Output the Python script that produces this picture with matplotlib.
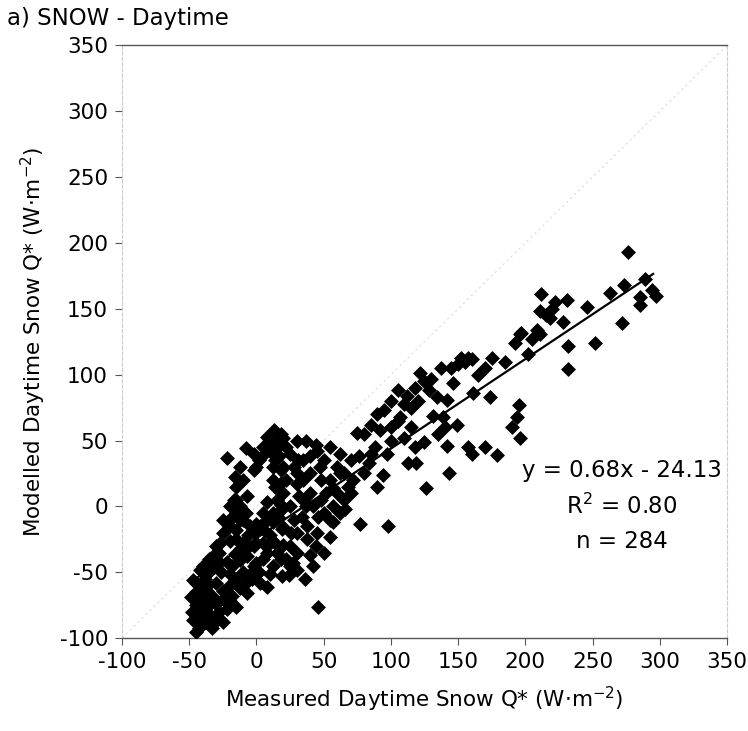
import numpy as np
import matplotlib
matplotlib.use("Agg")
import matplotlib.pyplot as plt

plt.rcParams["font.family"] = ["DejaVu Sans"]
plt.rcParams["mathtext.fontset"] = "dejavusans"
plt.rcParams["axes.unicode_minus"] = False

# measured (x) and modelled (y) daytime snow Q*
upper_pts = [
    (276, 193), (289, 173), (294, 164), (285, 159), (273, 168), (263, 162),
    (272, 139), (285, 153), (297, 160), (252, 124), (232, 122), (232, 104),
    (246, 151), (231, 157), (222, 155), (212, 161), (211, 148), (218, 143),
    (228, 140), (209, 134), (197, 132), (192, 124), (202, 116), (211, 131),
    (196, 131), (205, 127), (215, 145), (220, 150),
    (175, 113), (160, 112), (155, 110), (150, 108), (145, 105), (157, 113),
    (152, 113), (137, 105), (146, 94), (122, 101), (130, 97), (134, 83),
    (142, 81), (161, 86), (174, 83), (195, 77), (194, 68), (190, 60),
    (196, 52), (179, 39), (170, 45), (157, 45), (142, 46), (143, 25),
    (126, 14), (125, 49), (118, 45), (110, 52), (113, 33), (119, 33),
    (94, 24), (90, 15), (77, -13), (98, -15), (75, 56), (131, 69),
    (139, 68), (149, 62), (107, 68), (115, 75), (120, 80), (110, 78),
    (100, 80), (95, 73), (90, 70), (85, 62), (80, 55), (100, 60),
    (105, 65), (92, 58), (128, 88), (118, 90), (125, 95), (112, 84),
    (105, 88), (160, 40), (135, 55), (140, 60), (165, 100), (170, 105),
    (185, 110), (100, 50), (115, 60), (88, 45), (84, 33), (97, 40),
    (70, 35), (65, 25), (72, 20), (80, 25), (76, 38), (85, 40),
    (60, 30), (62, 40), (55, 20), (70, 10),
]
lower_pts = [
    (-22, 37), (-8, 44), (13, 58), (8, 53), (18, 55), (15, 50), (5, 45),
    (4, 38), (0, 30), (30, 50), (37, 50), (44, 47), (45, 42), (31, 35),
    (30, 25), (35, 20), (18, 28), (12, 20), (-12, 30), (-15, 15), (-17, 5),
    (-12, 0), (-10, -10), (-18, -8), (19, -2), (35, 5), (42, 0), (57, 0),
    (62, 25), (68, 15), (55, -10), (8, -10), (20, -16), (46, -76), (36, -55),
    (27, -43), (19, -53), (8, -61), (14, -28), (20, -29), (40, -37),
    (55, -23), (57, -12), (46, -8), (37, 0), (18, 1), (19, -17), (30, 17),
    (57, 14), (-7, 8), (-15, 5), (-12, -10), (0, -13), (5, -5), (5, -28),
    (0, -43), (-7, -38), (-20, -26), (-27, -28), (-32, -38), (-42, -48),
    (-47, -56), (-49, -69), (-47, -86), (-32, -89), (-15, -76), (-7, -66),
    (-25, -64), (-37, -64), (-30, -74), (-42, -76), (-20, -51), (-12, -41),
    (-5, -51), (3, -58), (10, -51),
    (-2, 28), (2, 35), (10, 42), (17, 38), (20, 30), (22, 20), (20, 10),
    (15, 5), (8, 3), (25, 40), (22, 45), (20, 52), (10, 48), (-2, 40),
    (-10, 20), (-8, -5), (-2, -20), (3, -15), (10, -22), (15, -35),
    (25, -30), (30, -20), (28, -10), (25, 0), (32, 8), (40, 10), (48, 5),
    (50, -5), (45, -20), (38, -25), (30, -35), (22, -40), (12, -45),
    (5, -40), (-2, -30), (-10, -28), (-15, -18), (-20, -15), (-25, -20),
    (-28, -35), (-22, -42), (-30, -45), (-35, -50), (-38, -55), (-40, -62),
    (-45, -65), (-44, -72), (-40, -80), (-38, -88), (-45, -95), (-43, -92),
    (-35, -82), (-28, -80), (-25, -70), (-20, -60), (-15, -55), (-10, -50),
    (-18, -68), (-22, -78), (-33, -68), (-36, -60), (-30, -58), (-26, -50),
    (-16, -36), (-8, -32), (-2, -45), (8, -35), (18, -40), (24, -52),
    (30, -48), (-30, -30), (-35, -40), (-40, -45), (-25, -10), (-20, 0),
    (-15, -25), (-5, -15), (12, -5), (50, 35), (55, 45), (48, 20),
    (52, 10), (65, 5), (62, -5), (42, -45), (38, -15), (28, 30), (40, 25),
    (-30, -85), (-42, -82),
    (-45, -75), (-48, -80), (-40, -70), (-35, -75), (-33, -92), (-25, -88),
    (-20, -72), (-12, -62), (-8, -58), (-3, -55), (-28, -42), (-18, -45),
    (-12, -32), (-6, -22), (0, -28), (6, -18), (12, -12), (16, -8),
    (14, 15), (12, 30), (16, 45), (14, 35), (18, 18), (-14, -4),
    (-16, 22), (26, -20), (34, -8), (44, -30),
    (50, -35), (60, 10), (66, -2), (47, 30), (35, 35), (40, 38),
    (-38, -48), (-45, -58), (8, -30), (2, -50), (25, -45),
]
measured = [p[0] for p in upper_pts + lower_pts]
modelled = [p[1] for p in upper_pts + lower_pts]

slope, intercept = 0.68, -24.13
fit_x = [-47, 295]
fit_text = ["y = 0.68x - 24.13", "R$^2$ = 0.80", "n = 284"]

ticks = np.arange(-100, 351, 50)

fig = plt.figure(figsize=(7.48, 7.31), dpi=100)
ax = fig.add_axes([0.163, 0.127, 0.809, 0.811])

# faint 1:1 line
ax.plot([-100, 350], [-100, 350], color="#dadada", lw=0.8, ls=(0, (2, 3)), zorder=1)

ax.scatter(measured, modelled, marker="D", s=58, color="black", linewidths=0, zorder=3)

fx = np.array(fit_x, dtype=float)
ax.plot(fx, slope * fx + intercept, color="black", lw=1.6, zorder=4)

ax.set_xlim(-100, 350)
ax.set_ylim(-100, 350)
ax.set_xticks(ticks)
ax.set_yticks(ticks)
ax.tick_params(direction="out", length=5, width=0.8, color="#555555",
               labelsize=15.5, pad=5)

for side in ["top", "bottom"]:
    ax.spines[side].set_color("#555555")
    ax.spines[side].set_linewidth(1.0)
for side in ["left", "right"]:
    ax.spines[side].set_color("#cccccc")
    ax.spines[side].set_linewidth(0.8)
    ax.spines[side].set_linestyle((0, (3, 2)))

ax.set_xlabel("Measured Daytime Snow Q* (W$\\cdot$m$^{-2}$)", fontsize=15.5, labelpad=9)
ax.set_ylabel("Modelled Daytime Snow Q* (W$\\cdot$m$^{-2}$)", fontsize=15.5, labelpad=8)

for i, t in enumerate(fit_text):
    ax.text(272, 27 - i * 27, t, ha="center", va="center", fontsize=16.5)

fig.text(0.01, 0.975, "a) SNOW - Daytime", ha="left", va="center", fontsize=16.5)

fig.savefig("out.png", dpi=100)
